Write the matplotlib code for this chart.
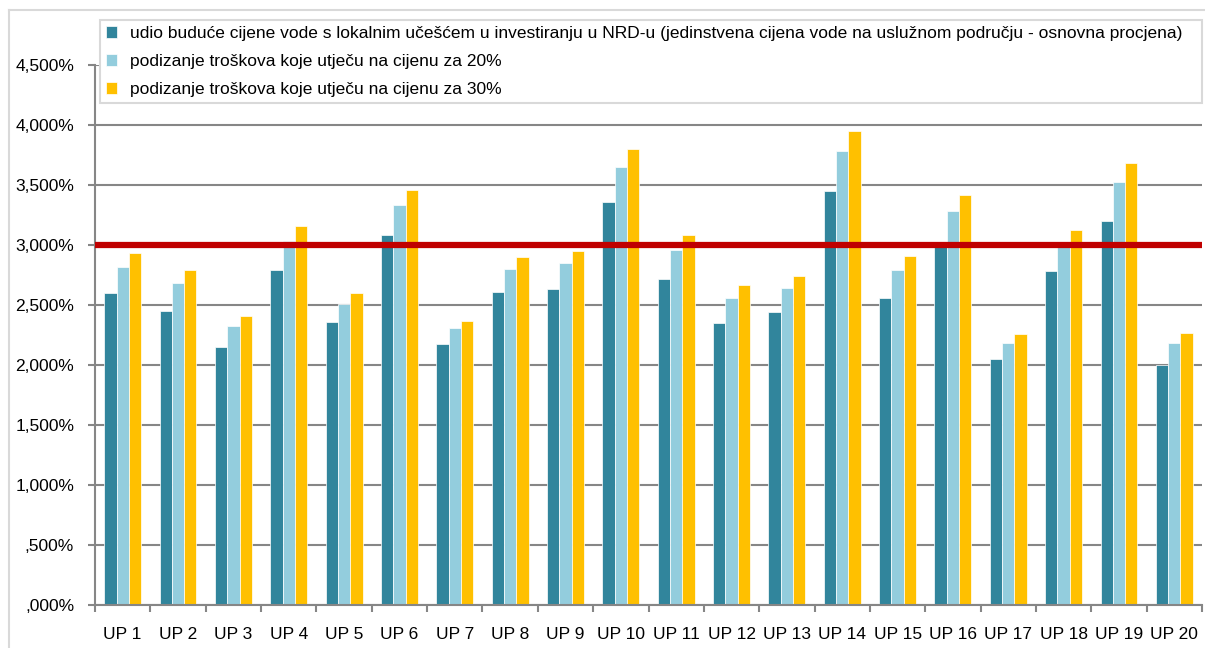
import numpy as np
import matplotlib.pyplot as plt
from matplotlib.ticker import FuncFormatter, FixedLocator
from matplotlib.lines import Line2D

plt.rcParams['font.family'] = ['Liberation Sans', 'DejaVu Sans']

categories = ["UP %d" % i for i in range(1, 21)]

# share of future water price, in percent
base_share = [2.60, 2.45, 2.15, 2.79, 2.36, 3.08, 2.175, 2.61, 2.63, 3.36,
              2.72, 2.35, 2.44, 3.45, 2.56, 2.99, 2.05, 2.78, 3.20, 2.00]
plus_20 = [2.82, 2.68, 2.325, 3.03, 2.51, 3.33, 2.31, 2.80, 2.85, 3.65,
           2.96, 2.56, 2.64, 3.785, 2.79, 3.28, 2.185, 2.99, 3.525, 2.18]
plus_30 = [2.93, 2.79, 2.41, 3.155, 2.60, 3.46, 2.37, 2.90, 2.95, 3.80,
           3.08, 2.67, 2.74, 3.95, 2.905, 3.42, 2.26, 3.125, 3.685, 2.27]
threshold = 3.0

series_names = [
    "udio buduće cijene vode s lokalnim učešćem u investiranju u NRD-u "
    "(jedinstvena cijena vode na uslužnom području - osnovna procjena)",
    "podizanje troškova koje utječu na cijenu za 20%",
    "podizanje troškova koje utječu na cijenu za 30%",
]
colors = ["#31859C", "#93CDDD", "#FFC000"]

fig = plt.figure(figsize=(12.05, 6.48), dpi=100)
ax = fig.add_axes([95 / 1205, 43 / 648, 1107 / 1205, 540 / 648])

x = np.arange(len(categories))
w = 0.222
for k, vals in enumerate([base_share, plus_20, plus_30]):
    ax.bar(x + (k - 1) * w, vals, width=w, color=colors[k],
           edgecolor="white", linewidth=0.5, label=series_names[k], zorder=2)

ax.axhline(threshold, color="#C00000", linewidth=4.5, zorder=3)

ax.set_xlim(-0.5, len(categories) - 0.5)
ax.set_ylim(0, 4.5)
ax.set_yticks(np.arange(0, 4.51, 0.5))


def pct_fmt(v, pos):
    s = ("%.3f" % v).replace(".", ",")
    if s.startswith("0"):
        s = s[1:]
    return s + "%"


ax.yaxis.set_major_formatter(FuncFormatter(pct_fmt))
ax.yaxis.grid(True, color="#868686", linewidth=1.5, zorder=0)
ax.set_axisbelow(True)

# category boundaries carry the tick marks, labels sit between them
ax.xaxis.set_major_locator(FixedLocator(np.arange(-0.5, len(categories), 1.0)))
ax.xaxis.set_major_formatter(FuncFormatter(lambda v, p: ""))
ax.set_xticks(x, minor=True)
ax.set_xticklabels(categories, minor=True)
ax.tick_params(axis="x", which="minor", length=0, pad=16, labelsize=12.5)
ax.tick_params(axis="x", which="major", length=5, width=1.5, color="#868686")
ax.tick_params(axis="y", length=5, width=1.5, color="#868686", labelsize=12.5, pad=10)

for side in ["top", "right"]:
    ax.spines[side].set_visible(False)
for side in ["left", "bottom"]:
    ax.spines[side].set_color("#868686")
    ax.spines[side].set_linewidth(1.5)

leg = fig.legend(loc="upper left",
                 bbox_to_anchor=(100 / 1205, 1 - 104 / 648, 1102 / 1205, 84 / 648),
                 mode="expand", fontsize=12.5, frameon=True, fancybox=False,
                 framealpha=1.0, handlelength=0.65, handleheight=0.65,
                 handletextpad=0.7, labelspacing=0.75, borderpad=0.35,
                 borderaxespad=0)
leg.get_frame().set_edgecolor("#D9D9D9")
leg.get_frame().set_linewidth(1.5)

# outer chart border (left and top edges visible)
fig.add_artist(Line2D([9 / 1205, 9 / 1205], [0, 1 - 10 / 648],
                      transform=fig.transFigure, color="#D9D9D9", linewidth=1.5))
fig.add_artist(Line2D([9 / 1205, 1], [1 - 10 / 648, 1 - 10 / 648],
                      transform=fig.transFigure, color="#D9D9D9", linewidth=1.5))

fig.savefig("out.png", dpi=100)
